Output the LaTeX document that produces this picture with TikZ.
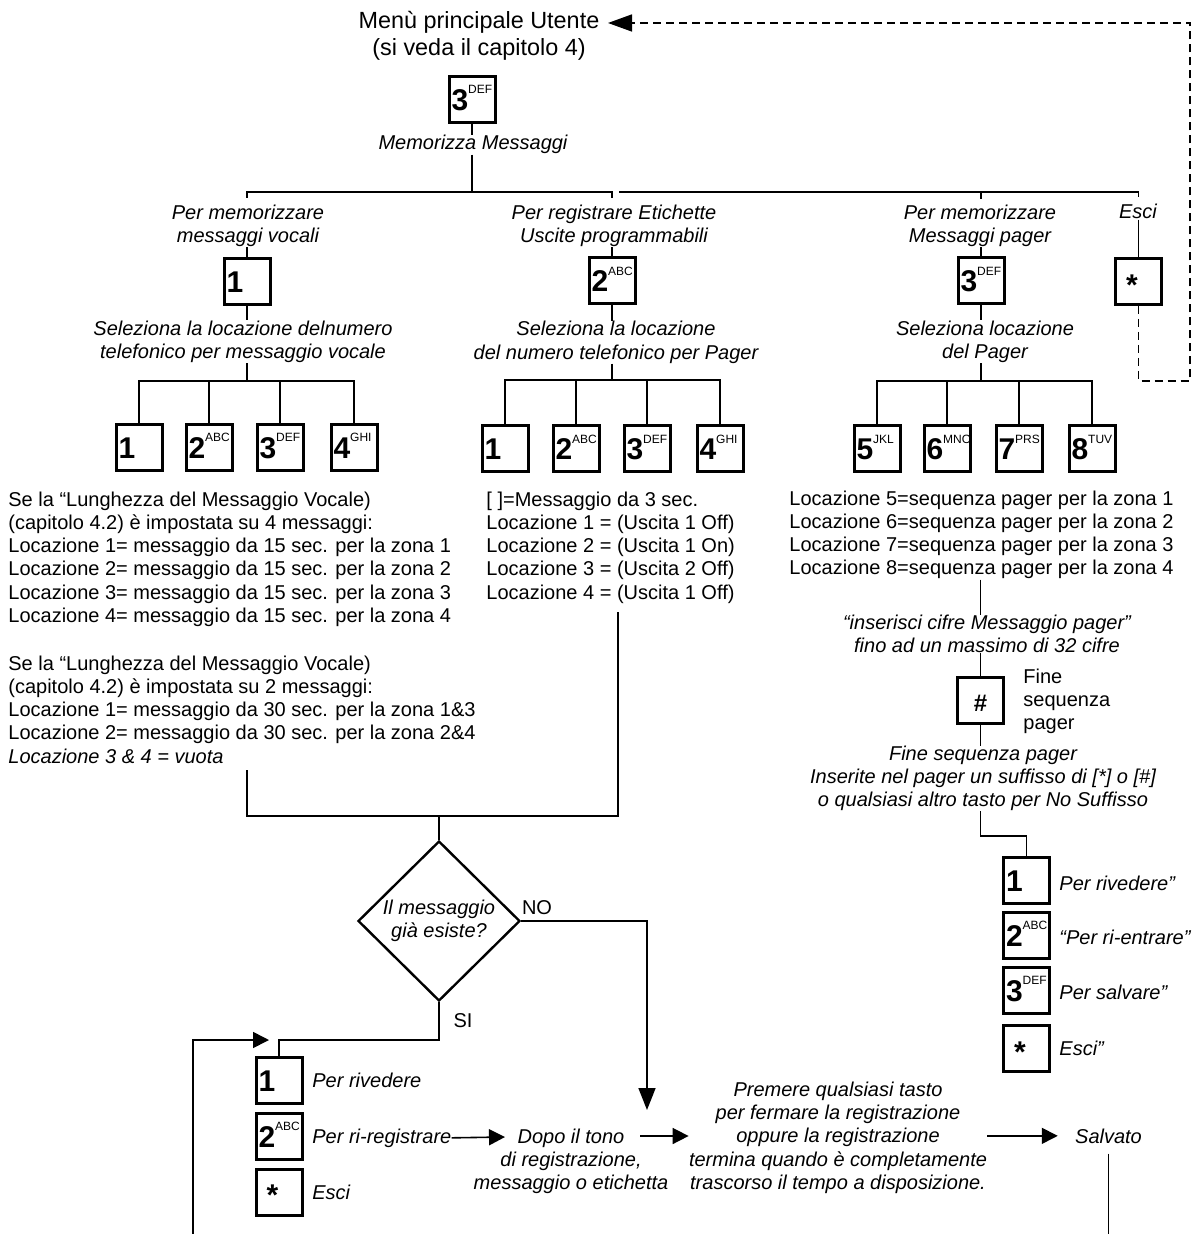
\documentclass[tikz,border=0pt]{standalone}
\usepackage{fontspec}
\setmainfont{Liberation Sans}
\usetikzlibrary{arrows.meta,shapes.geometric,calc}
\newcommand\kl[2]{\textbf{#1}\raisebox{8.3pt}[0pt][0pt]{\fontsize{6}{6}\selectfont #2}}
\begin{document}
\begin{tikzpicture}[x=0.5pt,y=-0.5pt,
  txt/.style={inner sep=0pt, font=\fontsize{10}{11.6}\selectfont},
  itxt/.style={inner sep=0pt, font=\fontsize{10}{11.6}\selectfont\itshape},
  kbox/.style={draw, line width=1.5pt, minimum width=23pt, minimum height=23pt, inner sep=0pt,
    text width=20.5pt, align=left, text height=10.7pt, text depth=0pt, font=\fontsize{15}{15}\selectfont},
  conn/.style={line width=0.8pt},
  arr/.style={line width=0.8pt, -{Triangle[length=8pt,width=8pt]}},
  bigarr/.style={line width=0.8pt, -{Triangle[length=11pt,width=8.5pt]}},
  dsh/.style={line width=0.75pt, dash pattern=on 4pt off 2.5pt},
]
\fill[white] (0,0) rectangle (1199,1234);
\useasboundingbox (0,0) rectangle (1199,1234);

% ---------- top ----------
\node[inner sep=0pt, font=\fontsize{11.7}{13.5}\selectfont, align=center, anchor=north] (menu) at (479,11)
  {Menù principale Utente\\(si veda il capitolo 4)};
\node[kbox] (kT) at (472,99.5) {\kl{3}{DEF}};
\node[itxt, anchor=base] (memo) at (473,150) {Memorizza Messaggi};
\draw[conn] (kT.south) -- (kT.south |- memo.north);
\draw[conn] (memo.south -| kT.center) -- (kT.center |- 0,192);

% bus
\draw[conn] (247,198) -- (247,192) -- (612,192) -- (612,198);
\draw[conn] (619,192) -- (1138.5,192) -- (1138.5,197);
\draw[conn] (981,192) -- (981,199);

% ---------- branch headers ----------
\node[itxt, align=center, anchor=north] (hV) at (248,204.5) {Per memorizzare\\messaggi vocali};
\node[itxt, align=center, anchor=north] (hE) at (614,204.5) {Per registrare Etichette\\Uscite programmabili};
\node[itxt, align=center, anchor=north] (hP) at (980,204.5) {Per memorizzare\\Messaggi pager};
\node[itxt, anchor=base] (hX) at (1138,219) {Esci};

\node[kbox] (kV) at (247,281.5) {\kl{1}{}};
\node[kbox] (kE) at (612,281) {\kl{2}{ABC}};
\node[kbox] (kP) at (981,281) {\kl{3}{DEF}};
\node[kbox] (kX) at (1138.5,281.5) {\hspace*{4pt}\raisebox{-1.5pt}{\textbf{*}}};

\draw[conn] (hV.south -| kV.center) -- (kV.north);
\draw[conn] (hE.south -| kE.center) -- (kE.north);
\draw[conn] (hP.south -| kP.center) -- (kP.north);
\draw[conn] (hX.south -| kX.center) -- (kX.north);

\node[itxt, align=center, anchor=north] (sV) at (243,320.5) {Seleziona la locazione delnumero\\telefonico per messaggio vocale};
\node[itxt, align=center, anchor=north] (sE) at (616,321) {Seleziona la locazione\\del numero telefonico per Pager};
\node[itxt, align=center, anchor=north] (sP) at (985,320.5) {Seleziona locazione\\del Pager};

\draw[conn] (kV.south) -- (sV.north -| kV.center);
\draw[conn] (kE.south) -- (sE.north -| kE.center);
\draw[conn] (kP.south) -- (sP.north -| kP.center);

% ---------- key rows ----------
\node[kbox] (v1) at (139,447.5) {\kl{1}{}};
\node[kbox] (v2) at (209,447.5) {\kl{2}{ABC}};
\node[kbox] (v3) at (280,447.5) {\kl{3}{DEF}};
\node[kbox] (v4) at (354,447.5) {\kl{4}{GHI}};
\node[kbox] (e1) at (505,449) {\kl{1}{}};
\node[kbox] (e2) at (576,449) {\kl{2}{ABC}};
\node[kbox] (e3) at (647,449) {\kl{3}{DEF}};
\node[kbox] (e4) at (720,449) {\kl{4}{GHI}};
\node[kbox] (p5) at (877,449) {\kl{5}{JKL}};
\node[kbox] (p6) at (947,449) {\kl{6}{MNO}};
\node[kbox] (p7) at (1019,449) {\kl{7}{PRS}};
\node[kbox] (p8) at (1092,449) {\kl{8}{TUV}};

\draw[conn] (sV.south -| kV.center) -- (kV.center |- 0,381);
\draw[conn] (v1.north) -- (v1.north |- 0,381) -- (v4.north |- 0,381) -- (v4.north);
\draw[conn] (v2.north) -- (v2.north |- 0,381);
\draw[conn] (v3.north) -- (v3.north |- 0,381);

\draw[conn] (sE.south -| kE.center) -- (kE.center |- 0,380);
\draw[conn] (e1.north) -- (e1.north |- 0,380) -- (e4.north |- 0,380) -- (e4.north);
\draw[conn] (e2.north) -- (e2.north |- 0,380);
\draw[conn] (e3.north) -- (e3.north |- 0,380);

\draw[conn] (sP.south -| kP.center) -- (kP.center |- 0,381);
\draw[conn] (p5.north) -- (p5.north |- 0,381) -- (p8.north |- 0,381) -- (p8.north);
\draw[conn] (p6.north) -- (p6.north |- 0,381);
\draw[conn] (p7.north) -- (p7.north |- 0,381);

% dashed return
\coordinate (aM) at (608,23);
\draw[dsh, -{Triangle[length=12pt,width=8.5pt]}] (kX.south) -- (kX.south |- 0,381) -- (1190,381) -- (1190,23) -- (aM);

% ---------- text blocks ----------
\node[txt, align=left, anchor=north west] (vb1) at (8,491.5)
  {Se la “Lunghezza del Messaggio Vocale)\\(capitolo 4.2) è impostata su 4 messaggi:\\Locazione 1= messaggio da 15 sec. per la zona 1\\Locazione 2= messaggio da 15 sec. per la zona 2\\Locazione 3= messaggio da 15 sec. per la zona 3\\Locazione 4= messaggio da 15 sec. per la zona 4};
\node[txt, align=left, anchor=north west] (vb2) at (8,655.5)
  {Se la “Lunghezza del Messaggio Vocale)\\(capitolo 4.2) è impostata su 2 messaggi:\\Locazione 1= messaggio da 30 sec. per la zona 1\&3\\Locazione 2= messaggio da 30 sec. per la zona 2\&4\\\textit{Locazione 3 \& 4 = vuota}};
\node[txt, align=left, anchor=north west] (eb) at (486,491.5)
  {[ ]=Messaggio da 3 sec.\\Locazione 1 = (Uscita 1 Off)\\Locazione 2 = (Uscita 1 On)\\Locazione 3 = (Uscita 2 Off)\\Locazione 4 = (Uscita 1 Off)};
\node[txt, align=left, anchor=north west] (pb) at (789,490.5)
  {Locazione 5=sequenza pager per la zona 1\\Locazione 6=sequenza pager per la zona 2\\Locazione 7=sequenza pager per la zona 3\\Locazione 8=sequenza pager per la zona 4};

% ---------- pager chain ----------
\node[itxt, align=center, anchor=north] (ins) at (987,614.5) {“inserisci cifre Messaggio pager”\\fino ad un massimo di 32 cifre};
\node[kbox, align=center, font=\fontsize{12}{12}\selectfont\bfseries] (kH) at (980.5,700.5) {\#};
\node[txt, align=left, anchor=north west] (fsp) at (1023,668.5) {Fine\\sequenza\\pager};
\node[itxt, align=center, anchor=north] (fs2) at (983,745.5)
  {Fine sequenza pager\\Inserite nel pager un suffisso di [*] o [\#]\\o qualsiasi altro tasto per No Suffisso};
\draw[conn] (pb.south -| kH.center) -- (ins.north -| kH.center);
\draw[conn] (ins.south -| kH.center) -- (kH.north);
\draw[conn] (kH.south) -- (fs2.north -| kH.center);

\node[kbox] (kQ1) at (1026.5,880.5) {\kl{1}{}};
\node[kbox] (kQ2) at (1026.5,935.5) {\kl{2}{ABC}};
\node[kbox] (kQ3) at (1026.5,990.5) {\kl{3}{DEF}};
\node[kbox] (kQ4) at (1026.5,1048.5) {\hspace*{4pt}\raisebox{-1.5pt}{\textbf{*}}};
\node[itxt, anchor=base west] (tQ1) at (1059,890) {Per rivedere”};
\node[itxt, anchor=base west] (tQ2) at (1059,944) {“Per ri-entrare”};
\node[itxt, anchor=base west] (tQ3) at (1059,999) {Per salvare”};
\node[itxt, anchor=base west] (tQ4) at (1059,1055) {Esci”};
\coordinate (q1) at (981,836);
\draw[conn] (fs2.south -| kH.center) -- (kH.center |- q1) -- (kQ1.north |- q1) -- (kQ1.north);

% ---------- decision ----------
\coordinate (jL) at (247,770);
\coordinate (jR) at (618,612);
\coordinate (jM) at (439,816);
\draw[conn] (jL) -- (247,816) -- (618,816) -- (jR);
\node[diamond, draw, line width=1.2pt, minimum width=81pt, minimum height=80pt, inner sep=0pt,
  align=center, font=\fontsize{10}{11.6}\selectfont\itshape] (dia) at (439,921) {Il messaggio\\già esiste?};
\draw[conn] (jM) -- (dia.north);
\node[txt, anchor=base] (no) at (537,914) {NO};
\node[txt, anchor=base] (si) at (463,1027) {SI};
\coordinate (aN) at (647,1110);
\draw[bigarr] (dia.east) -- (647,921) -- (aN);

% ---------- bottom left ----------
\node[kbox] (kR1) at (279,1080.5) {\kl{1}{}};
\node[kbox] (kR2) at (279,1136.5) {\kl{2}{ABC}};
\node[kbox] (kR3) at (279,1192) {\hspace*{4pt}\raisebox{-1.5pt}{\textbf{*}}};
\node[itxt, anchor=base west] (tR1) at (312,1087) {Per rivedere};
\node[itxt, anchor=base west] (tR2) at (312,1143) {Per ri-registrare};
\node[itxt, anchor=base west] (tR3) at (312,1199) {Esci};
\draw[conn] (dia.south) -- (439,1040) -- (kR1.center |- 0,1040) -- (kR1.north);
\coordinate (lB) at (193,1234);
\coordinate (lT) at (269,1040);
\draw[arr] (lB) -- (193,1040) -- (lT);

\node[itxt, align=center, anchor=north] (dopo) at (571,1128.5) {Dopo il tono\\di registrazione,\\messaggio o etichetta};
\node[itxt, align=center, anchor=north] (prem) at (838,1081.5)
  {Premere qualsiasi tasto\\per fermare la registrazione\\oppure la registrazione\\termina quando è completamente\\trascorso il tempo a disposizione.};
\node[itxt, anchor=base] (salv) at (1108.5,1143) {Salvato};
\coordinate (aD1) at (505,1137);
\draw[arr] (tR2.east) -- (aD1);
\coordinate (aD2) at (640,1136);
\draw[arr] (aD2) -- (prem.west |- aD2);
\draw[arr] (prem.east |- salv) -- ([xshift=-8.5pt]salv.west);
\coordinate (sB) at (1108.5,1234);
\draw[conn] ([yshift=-5pt]salv.south) -- (sB);
\end{tikzpicture}
\end{document}
